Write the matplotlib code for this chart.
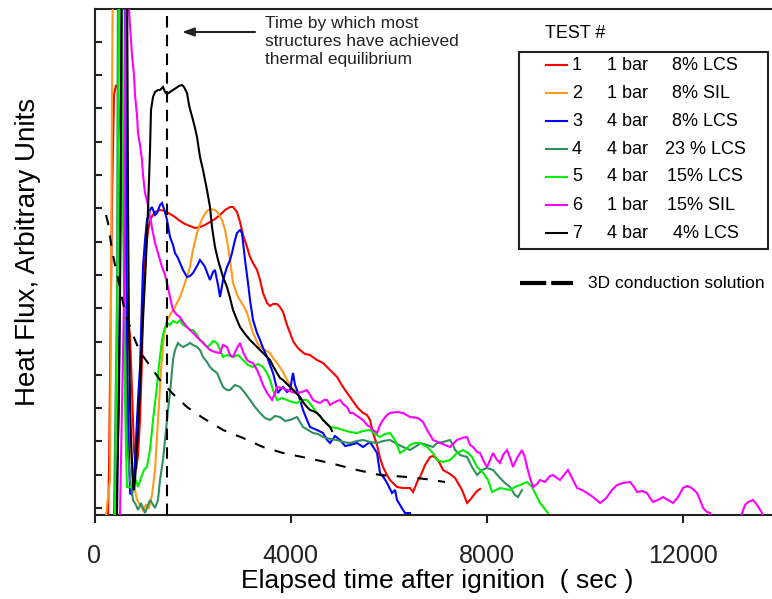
import numpy as np
import matplotlib
matplotlib.use('Agg')
import matplotlib.pyplot as plt
from matplotlib.lines import Line2D
from matplotlib.patches import Rectangle

plt.rcParams['font.family'] = ['Liberation Sans', 'DejaVu Sans']

# ---------------- data (time in s, heat flux in arbitrary units) ----------------
t1 = [276, 296, 357, 398, 439, 480, 500, 520, 561, 602, 643, 684, 725, 765, 806, 847, 888, 929, 969, 990,
      1031, 1092, 1153, 1235, 1337, 1439, 1541, 1643, 1745, 1847, 1949, 2051, 2153, 2255, 2357, 2459, 2562,
      2664, 2766, 2827, 2908, 2970, 3031, 3113, 3174, 3235, 3317, 3378, 3439, 3521, 3582, 3643, 3725, 3786,
      3847, 3929, 3990, 4052, 4133, 4194, 4296, 4398, 4541, 4664, 4807, 4950, 5072, 5215, 5358, 5480, 5562,
      5623, 5684, 5766, 5827, 5888, 5970, 6031, 6174, 6296, 6439, 6501, 6603, 6644, 6746, 6848, 6909, 7011,
      7113, 7256, 7358, 7501, 7603, 7664, 7726, 7807, 7868]
q1 = [0, 45, 315, 420, 430, 427, 405, 395, 345, 295, 225, 195, 180, 125, 65, 45, 60, 95, 155, 215,
      255, 285, 297, 303, 305, 304, 301, 298, 294, 291, 289, 287, 288, 290, 293, 296, 300,
      305, 308, 308, 303, 293, 280, 268, 258, 252, 245, 235, 222, 212, 209, 211, 211, 208,
      203, 190, 182, 174, 168, 165, 161, 160, 155, 152, 145, 138, 128, 118, 108, 102, 100,
      95, 82, 70, 57, 48, 40, 35, 28, 27, 27, 23, 35, 38, 50, 58, 59, 55,
      45, 41, 37, 25, 12, 15, 19, 24, 26]

t2 = [235, 316, 337, 357, 378, 480, 541, 602, 663, 725, 786, 867, 929, 990, 1051, 1112, 1174, 1235, 1296,
      1357, 1419, 1480, 1541, 1643, 1745, 1847, 1949, 2010, 2092, 2153, 2215, 2296, 2357, 2459, 2521, 2602,
      2664, 2704, 2766, 2827, 2929, 3031, 3113, 3174, 3235, 3317, 3378, 3480, 3582, 3643, 3725, 3847, 3929,
      4031, 4133, 4194, 4255]
q2 = [0, 35, 215, 415, 565, 565, 415, 265, 135, 75, 35, 15, 10, 5, 10, 7, 20, 45, 95,
      145, 180, 195, 200, 208, 218, 232, 248, 265, 282, 291, 298, 304, 306, 305, 302, 295,
      285, 275, 255, 232, 218, 210, 202, 192, 182, 173, 168, 165, 162, 157, 152, 143, 135,
      127, 122, 117, 112]

t3 = [439, 500, 541, 561, 623, 643, 663, 684, 704, 725, 765, 806, 847, 888, 929, 969, 990, 1031, 1071, 1133,
      1174, 1235, 1276, 1337, 1378, 1439, 1480, 1541, 1602, 1643, 1704, 1745, 1806, 1888, 1949, 2010, 2092,
      2153, 2215, 2255, 2317, 2357, 2419, 2459, 2521, 2562, 2623, 2704, 2766, 2806, 2867, 2908, 2970, 3010,
      3072, 3133, 3174, 3235, 3317, 3378, 3439, 3521, 3582, 3643, 3745, 3786, 3847, 3929, 3990, 4052, 4092,
      4133, 4194, 4255, 4337, 4398, 4541, 4664, 4746, 4807, 4909, 5011, 5113, 5215, 5358, 5480, 5623, 5766,
      5827, 5909, 5970, 6072, 6133, 6174, 6235, 6296, 6337, 6439]
q3 = [0, 115, 365, 565, 565, 315, 185, 95, 60, 22, 20, 35, 75, 115, 148, 215, 248, 275, 295, 305,
      308, 300, 302, 310, 312, 303, 295, 278, 270, 262, 257, 252, 245, 238, 239, 242, 249,
      255, 251, 248, 240, 235, 243, 245, 230, 218, 235, 248, 255, 262, 275, 282, 285, 282,
      255, 232, 215, 195, 182, 175, 167, 158, 150, 142, 122, 125, 128, 123, 125, 142, 130,
      125, 115, 105, 95, 88, 85, 82, 75, 72, 79, 75, 69, 70, 72, 68, 73, 62,
      42, 37, 32, 22, 25, 15, 10, 5, 2, 2]

t4 = [398, 459, 480, 541, 582, 623, 663, 725, 786, 847, 888, 949, 990, 1031, 1092, 1133, 1174, 1235, 1296,
      1337, 1398, 1439, 1500, 1541, 1602, 1643, 1704, 1745, 1806, 1888, 1949, 2010, 2092, 2153, 2215, 2296,
      2357, 2419, 2500, 2562, 2623, 2704, 2766, 2867, 2970, 3072, 3174, 3276, 3378, 3480, 3582, 3684, 3786,
      3888, 3990, 4133, 4194, 4255, 4358, 4460, 4562, 4664, 4807, 4950, 5072, 5215, 5358, 5480, 5623, 5766,
      5888, 6031, 6174, 6296, 6439, 6603, 6644, 6787, 6909, 6991, 7113, 7256, 7317, 7358, 7460, 7603, 7705,
      7807, 7909, 8011, 8133, 8276, 8378, 8480, 8582, 8643, 8725]
q4 = [0, 215, 565, 565, 365, 165, 75, 35, 15, 10, 5, 12, 7, 2, 10, 15, 12, 7, 15,
      35, 55, 75, 105, 122, 155, 165, 172, 170, 168, 170, 172, 170, 168, 165, 158, 153,
      148, 145, 142, 135, 128, 125, 125, 130, 128, 122, 115, 108, 102, 97, 95, 99, 98,
      94, 95, 98, 93, 88, 85, 82, 81, 78, 76, 75, 73, 72, 74, 75, 73, 72,
      74, 75, 71, 68, 65, 70, 72, 70, 68, 72, 73, 75, 70, 65, 60, 58, 48,
      40, 45, 47, 45, 37, 32, 28, 20, 18, 25]

t5 = [418, 480, 500, 561, 582, 602, 623, 643, 663, 725, 786, 847, 888, 949, 1010, 1071, 1133, 1194, 1255,
      1317, 1378, 1419, 1480, 1541, 1602, 1684, 1745, 1806, 1888, 1949, 2010, 2092, 2153, 2215, 2296, 2357,
      2419, 2500, 2562, 2623, 2704, 2766, 2827, 2929, 3031, 3133, 3235, 3337, 3439, 3521, 3582, 3643, 3725,
      3827, 3929, 4031, 4133, 4235, 4337, 4439, 4541, 4664, 4807, 4950, 5072, 5215, 5358, 5480, 5623, 5725,
      5827, 5929, 6031, 6133, 6235, 6337, 6439, 6541, 6644, 6787, 6909, 6991, 7113, 7256, 7399, 7521, 7623,
      7705, 7807, 7930, 8032, 8113, 8194, 8276, 8378, 8480, 8582, 8684, 8827, 8929, 9011, 9093, 9174, 9256]
q5 = [0, 265, 565, 565, 315, 215, 115, 65, 28, 28, 30, 35, 28, 37, 45, 48, 65, 95, 120,
      150, 175, 185, 192, 190, 194, 192, 195, 190, 188, 185, 185, 180, 175, 173, 168, 170,
      174, 172, 165, 158, 160, 159, 158, 160, 155, 150, 148, 151, 148, 142, 135, 125, 115,
      117, 115, 113, 112, 115, 115, 109, 102, 95, 88, 87, 85, 83, 82, 84, 85, 81,
      78, 81, 82, 75, 62, 65, 70, 72, 72, 68, 62, 55, 53, 55, 62, 65, 62,
      58, 48, 42, 35, 23, 25, 27, 26, 25, 28, 30, 33, 28, 20, 12, 7, 2]

t6 = [520, 602, 643, 684, 704, 745, 765, 806, 827, 867, 888, 929, 969, 990, 1031, 1092, 1133, 1194, 1235,
      1296, 1337, 1378, 1439, 1480, 1541, 1602, 1684, 1745, 1806, 1888, 1949, 2010, 2092, 2153, 2255, 2357,
      2459, 2562, 2623, 2704, 2766, 2827, 2908, 2970, 3031, 3113, 3174, 3235, 3317, 3378, 3439, 3521, 3623,
      3684, 3725, 3827, 3929, 4031, 4133, 4235, 4337, 4398, 4460, 4541, 4603, 4684, 4746, 4807, 4868, 4950,
      5011, 5072, 5154, 5215, 5276, 5358, 5419, 5480, 5562, 5623, 5684, 5766, 5827, 5888, 5970, 6031, 6174,
      6296, 6439, 6603, 6705, 6787, 6909, 7052, 7154, 7256, 7399, 7501, 7603, 7664, 7726, 7807, 7868, 7950,
      8011, 8072, 8133, 8215, 8276, 8337, 8419, 8480, 8541, 8623, 8725, 8786, 8827, 8888, 8950, 9032, 9093,
      9194, 9296, 9358, 9439, 9501, 9582, 9664, 9746, 9848, 9950, 10052, 10174, 10317, 10399, 10460, 10562,
      10664, 10787, 10930, 11011, 11073, 11175, 11277, 11338, 11399, 11501, 11603, 11705, 11807, 11909, 12011,
      12093, 12154, 12236, 12297, 12358, 12420, 12501, 12562, 12603, 13175, 13216, 13277, 13338, 13440, 13522,
      13624, 13685]
q6 = [0, 215, 565, 565, 505, 475, 460, 440, 420, 400, 382, 370, 355, 340, 322, 310, 298, 282, 272,
      262, 255, 248, 240, 232, 218, 205, 200, 198, 193, 188, 185, 182, 178, 175, 170, 165,
      163, 162, 170, 168, 160, 158, 167, 172, 163, 155, 153, 152, 145, 138, 130, 122, 115,
      122, 128, 127, 125, 123, 122, 123, 125, 120, 115, 113, 112, 115, 115, 110, 112, 114,
      115, 111, 108, 102, 102, 99, 97, 95, 90, 88, 85, 82, 90, 95, 100, 102, 103,
      102, 98, 97, 93, 85, 75, 72, 70, 68, 75, 77, 78, 70, 68, 63, 62, 53,
      48, 55, 62, 55, 52, 60, 65, 57, 48, 57, 65, 57, 48, 37, 28, 31, 35,
      33, 39, 40, 37, 35, 40, 45, 37, 27, 25, 22, 18, 12, 15, 18, 25,
      30, 32, 33, 28, 23, 24, 22, 17, 13, 15, 18, 15, 12, 18, 27,
      29, 28, 25, 22, 15, 7, 3, 2, -10, -10, 2, 10, 13, 15, 10,
      2, -10]

t7 = [459, 520, 561, 663, 684, 704, 725, 745, 786, 806, 827, 847, 888, 929, 969, 1010, 1051, 1092, 1133,
      1153, 1194, 1235, 1296, 1337, 1398, 1439, 1480, 1541, 1602, 1664, 1725, 1786, 1827, 1888, 1929, 1970,
      2010, 2051, 2092, 2153, 2215, 2255, 2296, 2357, 2398, 2459, 2521, 2562, 2623, 2704, 2766, 2827, 2908,
      2970, 3072, 3174, 3276, 3378, 3480, 3582, 3643, 3725, 3786, 3847, 3929, 3990, 4092, 4194, 4255, 4337,
      4398, 4460, 4541, 4603, 4664, 4746, 4807, 4848]
q7 = [0, 215, 565, 565, 315, 185, 115, 75, 30, 25, 35, 50, 85, 125, 175, 215, 255, 305, 365,
      405, 418, 423, 425, 425, 428, 423, 421, 423, 425, 427, 429, 430, 428, 422, 410, 402,
      395, 387, 378, 358, 345, 335, 325, 308, 288, 268, 255, 248, 238, 228, 217, 205, 195,
      188, 181, 175, 170, 165, 160, 155, 149, 142, 137, 135, 131, 128, 123, 118, 113, 108,
      105, 104, 102, 99, 95, 91, 88, 84]

t_cond = [235, 276, 357, 439, 520, 582, 643, 725, 827, 929, 1092, 1337, 1582, 1888, 2215, 2623, 3031, 3439,
          3847, 4337, 4807, 5358, 5827, 6378, 6746, 7154]
q_cond = [300, 292, 265, 245, 228, 212, 200, 188, 175, 163, 152, 135, 122, 108, 97, 85, 77, 68,
          62, 57, 52, 45, 40, 38, 36, 33]

t_equilibrium = 1480

tests = ['1', '2', '3', '4', '5', '6', '7']
pressures = ['1 bar', '1 bar', '4 bar', '4 bar', '4 bar', '1 bar', '4 bar']
mixtures = ['8% LCS', '8% SIL', '8% LCS', '23 % LCS', '15% LCS', '15% SIL', '4% LCS']
colors = ['#ff0000', '#ff9a1a', '#0000ff', '#2f8f5f', '#00ee00', '#ff00ff', '#000000']
series_t = [t1, t2, t3, t4, t5, t6, t7]
series_q = [q1, q2, q3, q4, q5, q6, q7]

xticks = [0, 4000, 8000, 12000]

# ---------------- figure ----------------
W, H = 772, 599
fig = plt.figure(figsize=(W / 100, H / 100), dpi=100)
ax = fig.add_axes([94.5 / W, (H - 515) / H, (780.5 - 94.5) / W, 506 / H])

for tt, qq, c in zip(series_t, series_q, colors):
    ax.plot(tt, qq, color=c, lw=1.5, solid_joinstyle='miter', zorder=3)

ax.plot(t_cond, q_cond, color='black', lw=1.5, dashes=(5, 5), zorder=4)
ax.axvline(t_equilibrium, color='black', lw=1.5, dashes=(5.5, 3.5), zorder=4)

ax.set_xlim(0, 14000)
ax.set_ylim(0, 506)
ax.set_xticks(xticks)
ax.set_xticklabels([str(v) for v in xticks])
ax.set_yticks(np.arange(7, 480, 33.3))
ax.tick_params(axis='x', direction='out', length=6, width=1.5, labelsize=18, pad=15, colors='#222222')
ax.tick_params(axis='y', direction='in', length=5, width=1.5, labelleft=False, colors='#222222')
for s in ['left', 'bottom', 'top']:
    ax.spines[s].set_linewidth(1.5)
    ax.spines[s].set_color('#222222')
ax.spines['right'].set_visible(False)

ax.set_xlabel('Elapsed time after ignition  ( sec )', fontsize=19)
ax.xaxis.label.set_va('center')
ax.xaxis.set_label_coords(0.5, (515 - 581) / 506)
ax.set_ylabel('Heat Flux, Arbitrary Units', fontsize=20)
ax.yaxis.label.set_va('center')
ax.yaxis.set_label_coords((28 - 94.5) / 686, (515 - 252) / 506)

# annotation
ax.annotate('', xy=(1786, 483), xytext=(3276, 483),
            arrowprops=dict(arrowstyle='-|>,head_length=0.7,head_width=0.25', lw=1.5, color='#222222',
                            shrinkA=0, shrinkB=0))
ax.text(3480, 499, 'Time by which most\nstructures have achieved\nthermal equilibrium',
        fontsize=12.5, ha='left', va='top', linespacing=1.25, color='#222222')

# legend (drawn in figure pixel space)
def fx(px):
    return px / W

def fy(py):
    return 1 - py / H

fig.text(fx(545), fy(34), 'TEST #', fontsize=13, ha='left', va='center')
fig.add_artist(Rectangle((fx(519), fy(249)), fx(768) - fx(519), fy(52) - fy(249),
                         transform=fig.transFigure, fill=False, lw=1.5, ec='#222222'))
col3 = [672, 672, 672, 665, 667, 667, 673]
for i in range(len(tests)):
    ry = 65 + 28 * i
    fig.add_artist(Line2D([fx(546), fx(567)], [fy(ry), fy(ry)], transform=fig.transFigure,
                          color=colors[i], lw=1.5))
    fig.text(fx(572), fy(ry), tests[i], fontsize=13, ha='left', va='center')
    fig.text(fx(607), fy(ry), pressures[i], fontsize=13, ha='left', va='center')
    fig.text(fx(col3[i]), fy(ry), mixtures[i], fontsize=13, ha='left', va='center')

fig.add_artist(Line2D([fx(520), fx(573)], [fy(283), fy(283)], transform=fig.transFigure,
                      color='black', lw=3, dashes=(6.3, 1.2)))
fig.text(fx(588), fy(283), '3D conduction solution', fontsize=12.5, ha='left', va='center')

fig.savefig('out.png', dpi=100)
